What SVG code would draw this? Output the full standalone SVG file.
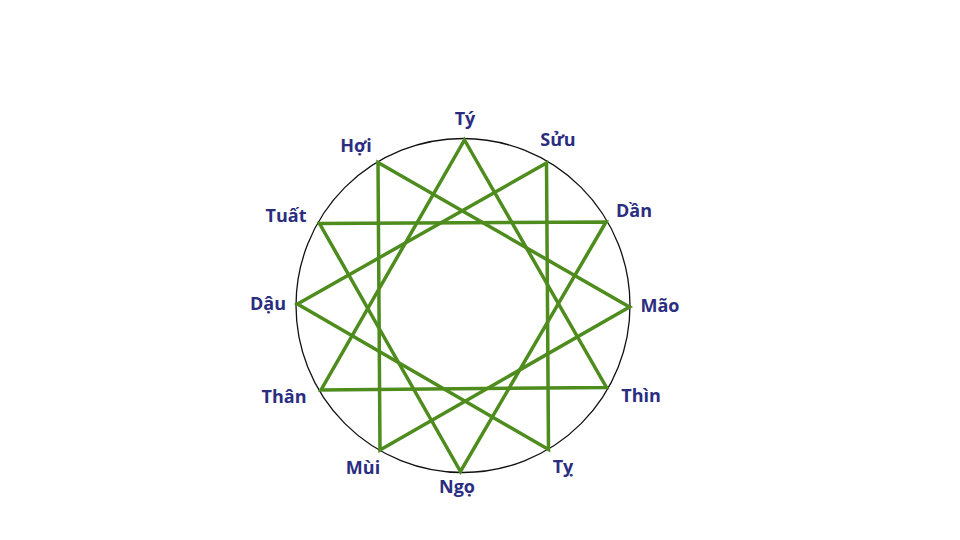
<svg xmlns="http://www.w3.org/2000/svg" width="960" height="540" viewBox="0 0 960 540">
<style>
.lbl{font-family:"Open Sans","Liberation Sans",sans-serif;font-weight:bold;font-size:18px;fill:#2b2d80;text-anchor:middle}
.ln{stroke:#4e8c1e;stroke-width:3.5;fill:none;stroke-linejoin:miter}
</style>
<rect width="960" height="540" fill="#ffffff"/>
<circle id="circle" cx="463" cy="305.5" r="167" fill="none" stroke="#111" stroke-width="1.3"/>
<g id="connectors">
<polygon class="ln" points="464.5,140 606.5,387.5 321,390"/>
<polygon class="ln" points="378,162.5 629.5,307 380,450"/>
<polygon class="ln" points="546.5,163 548.5,449.5 297.5,304"/>
<polygon class="ln" points="606,222 460.5,471.5 319.5,223.5"/>
</g>
<g id="ty"><text class="lbl" x="465" y="125">Tý</text></g>
<g id="suu"><text class="lbl" x="558" y="146">Sửu</text></g>
<g id="dan"><text class="lbl" x="634" y="217">Dần</text></g>
<g id="mao"><text class="lbl" x="660" y="312">Mão</text></g>
<g id="thin"><text class="lbl" x="641" y="402">Thìn</text></g>
<g id="ti"><text class="lbl" x="563" y="473">Tỵ</text></g>
<g id="ngo"><text class="lbl" x="457" y="493">Ngọ</text></g>
<g id="mui"><text class="lbl" x="363" y="474">Mùi</text></g>
<g id="than"><text class="lbl" x="284" y="403">Thân</text></g>
<g id="dau"><text class="lbl" x="268" y="310">Dậu</text></g>
<g id="tuat"><text class="lbl" x="286" y="222">Tuất</text></g>
<g id="hoi"><text class="lbl" x="356" y="152">Hợi</text></g>
</svg>
